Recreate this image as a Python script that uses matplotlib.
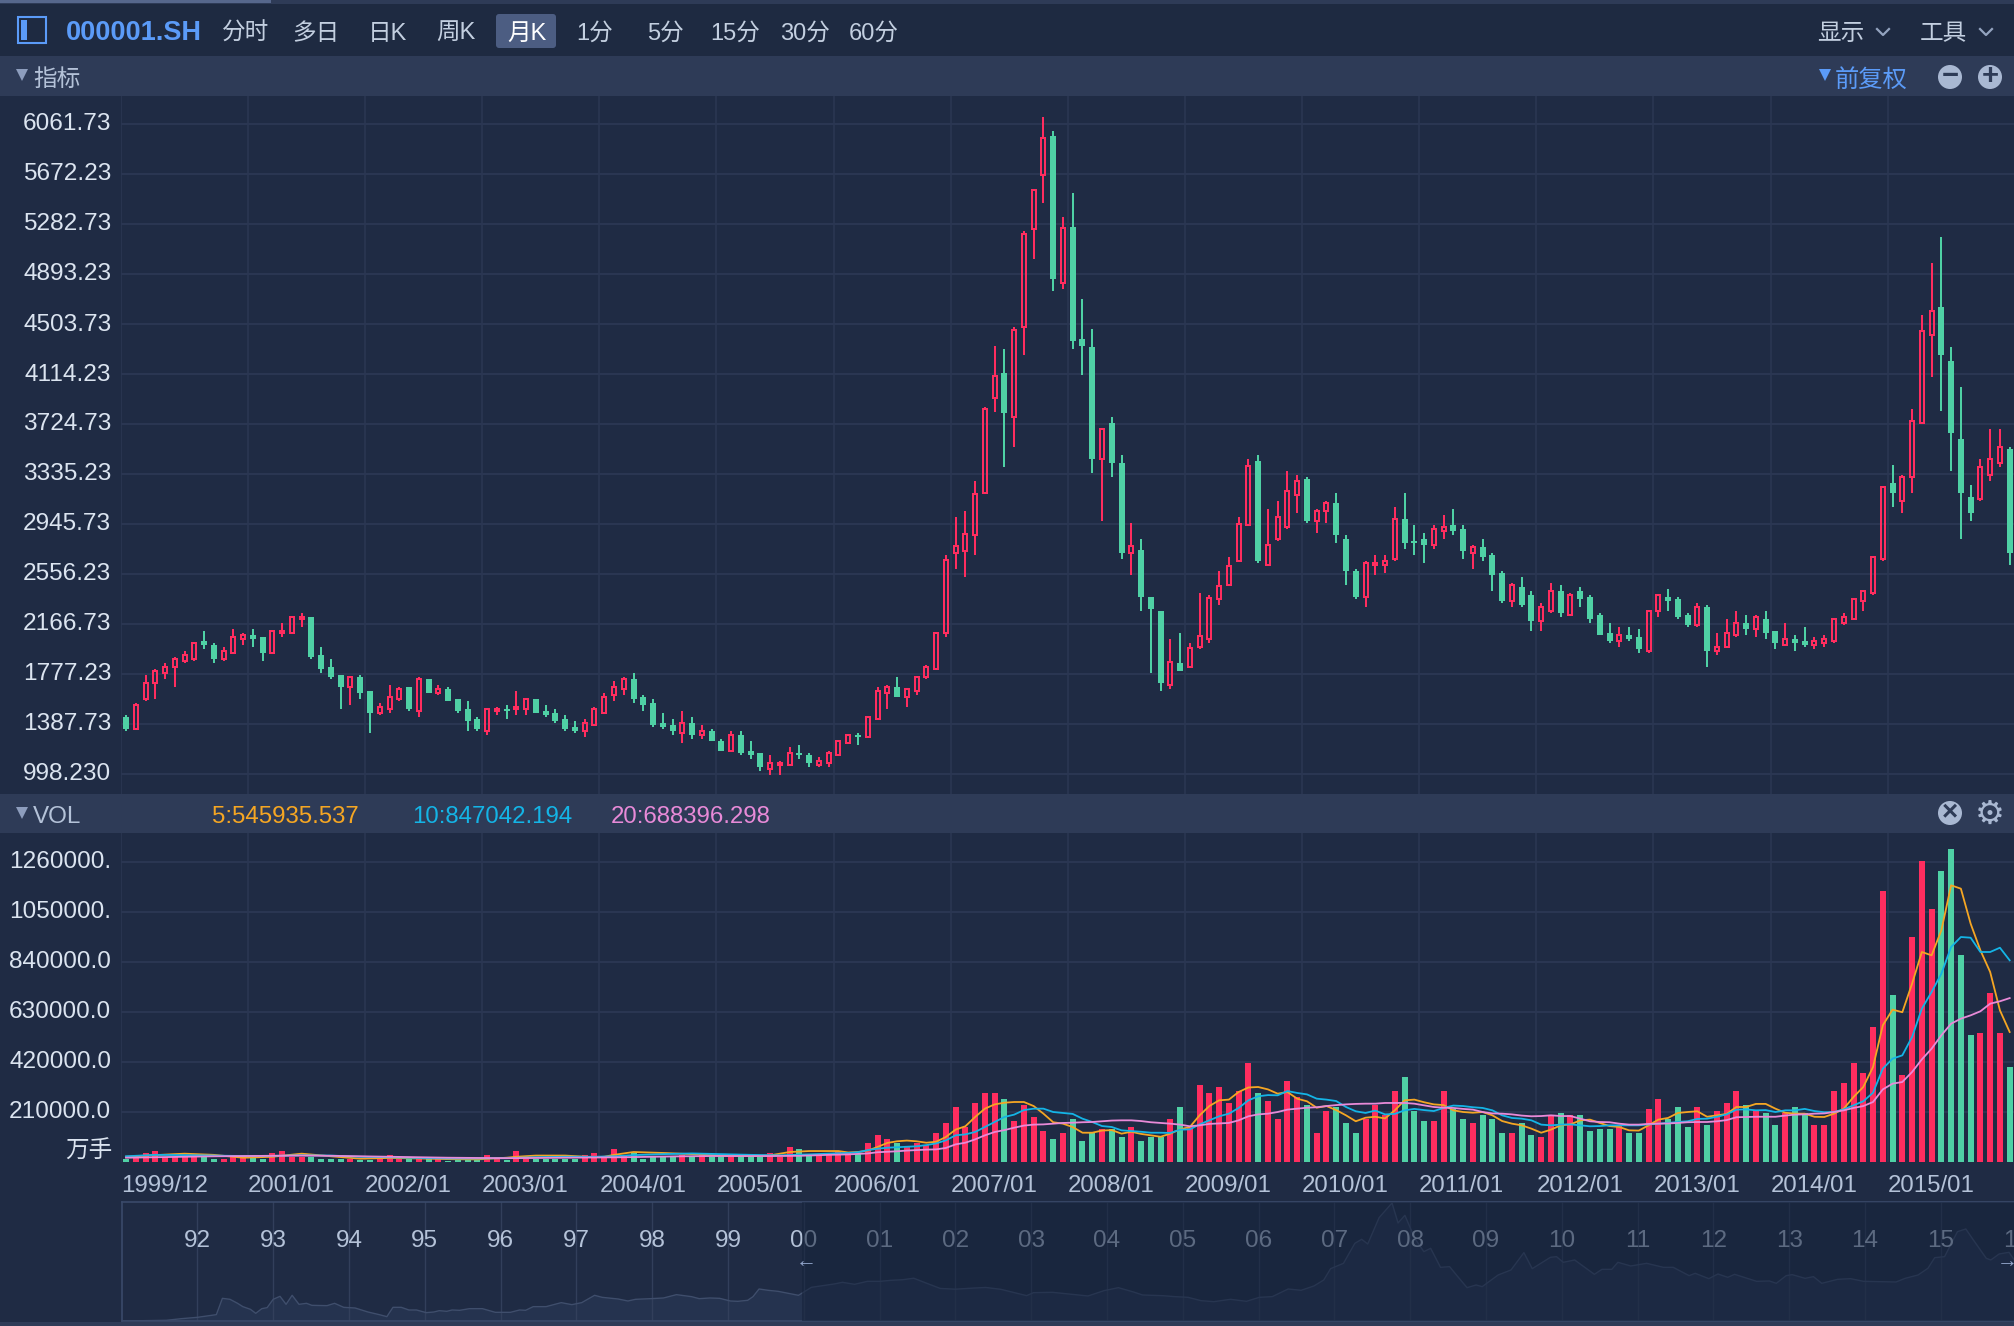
#!/usr/bin/env python3
"""Monthly K-line chart of 000001.SH with volume panel and navigator, dark terminal style."""
import matplotlib
matplotlib.use("Agg")
import matplotlib.pyplot as plt
from matplotlib.patches import Rectangle, Circle, FancyBboxPatch
from matplotlib.transforms import ScaledTranslation

plt.rcParams["font.family"] = ["Liberation Sans", "Noto Sans CJK SC", "DejaVu Sans"]

W, H = 2014, 1326

BG = "#1f2b44"
BAR = "#2e3b57"
TOOLBAR = "#1e2a41"
GRID = "#2b3753"
RED = "#ff2d5f"
GREEN = "#4fd1a5"
BLUE_TXT = "#5b9bf8"
LABEL = "#dbe4f0"
SUB = "#b4c2d8"

# monthly candles, 1999/12 onward
k_high = [
    1456, 1549, 1768, 1814, 1861, 1908, 1955, 2017, 2111, 2017,
    1986, 2126, 2095, 2126, 2064, 2111, 2173, 2220, 2251, 2220,
    1986, 1892, 1768, 1752, 1768, 1643, 1549, 1690, 1674, 1674,
    1752, 1736, 1690, 1674, 1580, 1565, 1440, 1502, 1518, 1534,
    1643, 1580, 1580, 1534, 1502, 1456, 1409, 1424, 1518, 1627,
    1721, 1752, 1783, 1612, 1580, 1471, 1424, 1487, 1440, 1378,
    1346, 1268, 1331, 1331, 1253, 1159, 1144, 1097, 1206, 1222,
    1159, 1128, 1175, 1253, 1300, 1315, 1440, 1674, 1690, 1752,
    1658, 1752, 1846, 2095, 2701, 2997, 3046, 3277, 3856, 4336,
    4306, 4478, 5227, 5550, 6114, 6006, 5334, 5522, 4697, 4463,
    3696, 3776, 3480, 2950, 2827, 2375, 2267, 2048, 2094, 2017,
    2405, 2390, 2578, 2686, 2997, 3449, 3480, 3062, 3125, 3359,
    3327, 3312, 3062, 3125, 3187, 2860, 2595, 2657, 2704, 2704,
    3078, 3187, 2938, 2876, 2938, 3016, 3062, 2938, 2782, 2829,
    2720, 2579, 2486, 2533, 2424, 2330, 2486, 2470, 2408, 2455,
    2392, 2252, 2174, 2143, 2143, 2128, 2268, 2392, 2439, 2377,
    2250, 2328, 2312, 2094, 2203, 2265, 2234, 2234, 2265, 2109,
    2172, 2078, 2141, 2063, 2078, 2203, 2250, 2359, 2421, 2686,
    3231, 3403, 3325, 3839, 4571, 4977, 5179, 4322, 4010, 3247,
    3449, 3683, 3683, 3543,
]
k_open = [
    1440, 1346, 1580, 1705, 1783, 1830, 1877, 1892, 2033, 2002,
    1892, 1939, 2048, 2080, 2064, 1939, 2095, 2095, 2204, 2220,
    1924, 1830, 1768, 1674, 1752, 1643, 1471, 1502, 1580, 1674,
    1487, 1736, 1627, 1658, 1580, 1502, 1424, 1331, 1487, 1502,
    1502, 1502, 1580, 1487, 1471, 1424, 1362, 1331, 1378, 1471,
    1612, 1658, 1736, 1596, 1549, 1393, 1378, 1315, 1393, 1300,
    1331, 1253, 1175, 1300, 1175, 1159, 1034, 1066, 1066, 1159,
    1144, 1066, 1081, 1144, 1237, 1300, 1284, 1424, 1627, 1674,
    1596, 1643, 1752, 1814, 2097, 2723, 2738, 2861, 3188, 3924,
    4121, 3779, 4484, 5245, 5664, 5972, 4823, 5257, 4386, 4321,
    3453, 3730, 3419, 2720, 2747, 2375, 2267, 1694, 1860, 1832,
    1986, 2051, 2359, 2470, 2658, 2938, 3434, 2626, 2829, 2922,
    3172, 3296, 2969, 3047, 3109, 2829, 2579, 2377, 2626, 2626,
    2673, 2985, 2813, 2829, 2782, 2891, 2938, 2907, 2720, 2766,
    2704, 2564, 2346, 2455, 2392, 2190, 2268, 2424, 2237, 2424,
    2377, 2237, 2096, 2034, 2081, 2065, 1956, 2268, 2377, 2361,
    2234, 2156, 2296, 1954, 1985, 2078, 2172, 2125, 2203, 2109,
    2000, 2047, 2031, 2000, 2016, 2031, 2172, 2203, 2343, 2405,
    2670, 3262, 3122, 3309, 3730, 4416, 4634, 4213, 3605, 3153,
    3138, 3325, 3418, 3527,
]
k_close = [
    1346, 1534, 1705, 1799, 1830, 1892, 1924, 2017, 2002, 1892,
    1955, 2064, 2080, 2048, 1939, 2111, 2111, 2220, 2220, 1908,
    1814, 1752, 1674, 1752, 1627, 1471, 1518, 1596, 1658, 1502,
    1736, 1627, 1658, 1565, 1487, 1409, 1346, 1502, 1502, 1487,
    1518, 1580, 1471, 1456, 1409, 1346, 1331, 1393, 1502, 1596,
    1674, 1736, 1580, 1534, 1378, 1362, 1331, 1393, 1300, 1331,
    1253, 1175, 1300, 1159, 1144, 1050, 1081, 1081, 1159, 1144,
    1081, 1097, 1159, 1253, 1300, 1284, 1440, 1643, 1674, 1596,
    1658, 1752, 1830, 2095, 2667, 2775, 2870, 3181, 3838, 4102,
    3807, 4460, 5208, 5550, 5953, 4851, 5254, 4370, 4336, 3449,
    3684, 3419, 2716, 2778, 2375, 2282, 1706, 1872, 1799, 1983,
    2076, 2371, 2464, 2621, 2947, 3400, 2655, 2782, 3000, 3203,
    3281, 2969, 3047, 3109, 2860, 2579, 2377, 2642, 2642, 2657,
    2985, 2798, 2798, 2782, 2907, 2922, 2891, 2735, 2766, 2689,
    2548, 2346, 2470, 2315, 2190, 2299, 2424, 2252, 2392, 2361,
    2205, 2081, 2034, 2081, 2050, 1972, 2268, 2392, 2346, 2221,
    2156, 2296, 1954, 1985, 2094, 2172, 2125, 2218, 2094, 2016,
    2047, 2016, 2000, 2031, 2047, 2203, 2218, 2359, 2421, 2686,
    3231, 3185, 3309, 3746, 4447, 4603, 4260, 3652, 3185, 3029,
    3387, 3449, 3543, 2717,
]
k_low = [
    1331, 1346, 1565, 1580, 1736, 1674, 1861, 1877, 1970, 1861,
    1877, 1939, 2002, 1986, 1877, 1939, 2064, 2095, 2142, 1892,
    1783, 1736, 1502, 1534, 1580, 1315, 1456, 1471, 1565, 1487,
    1440, 1627, 1612, 1565, 1471, 1331, 1331, 1300, 1456, 1424,
    1456, 1456, 1471, 1440, 1393, 1331, 1315, 1284, 1378, 1471,
    1565, 1612, 1549, 1487, 1362, 1346, 1300, 1237, 1268, 1268,
    1253, 1175, 1175, 1144, 1112, 1019, 988, 988, 1066, 1112,
    1050, 1050, 1050, 1144, 1237, 1222, 1284, 1424, 1502, 1596,
    1518, 1612, 1736, 1814, 2067, 2593, 2532, 2701, 3188, 3822,
    3388, 3542, 4259, 5008, 5445, 4758, 4774, 4306, 4105, 3342,
    2966, 3311, 2670, 2547, 2267, 1783, 1641, 1657, 1799, 1832,
    1971, 2017, 2313, 2470, 2658, 2938, 2639, 2626, 2813, 2907,
    3031, 2953, 2876, 2953, 2798, 2470, 2361, 2299, 2548, 2564,
    2657, 2751, 2704, 2642, 2751, 2829, 2860, 2673, 2595, 2657,
    2424, 2330, 2299, 2299, 2112, 2112, 2252, 2221, 2237, 2299,
    2174, 2081, 2019, 1987, 2034, 1941, 1941, 2221, 2268, 2205,
    2141, 2141, 1829, 1922, 1985, 2063, 2078, 2063, 2047, 1969,
    2000, 1954, 1985, 1969, 1985, 2016, 2156, 2203, 2265, 2390,
    2655, 3076, 3029, 3185, 3730, 4088, 3823, 3356, 2826, 2966,
    3122, 3278, 3387, 2624,
]

volume = [
    12600, 18200, 37800, 46200, 21000, 21000, 21000, 21000, 21000, 12600,
    12600, 21000, 21000, 21000, 12600, 37800, 46200, 21000, 21000, 21000,
    12600, 12600, 12600, 12600, 8400, 8400, 12600, 29400, 12600, 12600,
    12600, 12600, 12600, 4200, 12600, 12600, 8400, 29400, 12600, 8400,
    46200, 12600, 12600, 12600, 12600, 12600, 12600, 29400, 37800, 21000,
    54600, 29400, 37800, 12600, 21000, 21000, 21000, 29400, 21000, 29400,
    21000, 21000, 21000, 21000, 21000, 21000, 37800, 21000, 63000, 54600,
    29400, 29400, 29400, 46200, 37800, 35000, 78400, 112000, 95200, 81200,
    61600, 78400, 72800, 120400, 162400, 229600, 145600, 246400, 288400, 288400,
    263200, 170800, 238000, 187600, 128800, 95200, 120400, 179200, 86800, 120400,
    137200, 137200, 103600, 145600, 86800, 103600, 103600, 179200, 229600, 145600,
    322000, 288400, 313600, 246400, 296800, 414400, 288400, 254800, 179200, 338800,
    271600, 238000, 120400, 212800, 229600, 162400, 120400, 179200, 238000, 196000,
    296800, 355600, 212800, 170800, 170800, 296800, 221200, 179200, 162400, 196000,
    179200, 120400, 120400, 162400, 112000, 103600, 196000, 204400, 196000, 196000,
    128800, 137200, 137200, 154000, 120400, 120400, 221200, 263200, 179200, 229600,
    145600, 229600, 154000, 212800, 246400, 296800, 238000, 212800, 204400, 154000,
    204400, 229600, 204400, 154000, 154000, 296800, 330400, 414400, 372400, 565600,
    1136800, 700000, 364000, 943600, 1262800, 1061200, 1220800, 1313200, 868000, 532000,
    540400, 708400, 540400, 397600,
]

# moving average lines: sparse readings early on, every month from 2006 on
ma5_x = [0, 3, 6, 9, 12, 15, 18, 21, 24, 27, 30, 33, 36, 39, 40, 42, 45, 48, 49, 50,
         52, 55, 58, 61, 64, 66, 68, 70, 73] + list(range(74, 194))
ma5 = [22000, 29000, 35000, 30000, 18000, 22000, 35000, 24000, 14000, 17000, 15000,
       12000, 11000, 18000, 22000, 27000, 27000, 20000, 22000, 30000,
       42000, 38000, 33000, 27000, 25000, 28000, 42000, 46000, 46000,
       40000, 42000, 48000, 63000, 80000, 87000, 90000, 87000, 81000, 85000,
       105000, 136000, 150000, 189000, 224000, 242000, 249000, 252000, 252000, 235000,
       203000, 167000, 161000, 147000, 123000, 123000, 132000, 134000, 119000, 127000,
       118000, 112000, 106000, 119000, 137000, 147000, 196000, 235000, 259000, 262000,
       294000, 313000, 315000, 305000, 287000, 294000, 266000, 255000, 228000, 235000,
       218000, 196000, 171000, 186000, 190000, 183000, 217000, 259000, 262000, 251000,
       242000, 239000, 217000, 210000, 207000, 210000, 196000, 172000, 161000, 154000,
       140000, 123000, 136000, 154000, 158000, 175000, 178000, 164000, 151000, 147000,
       133000, 132000, 154000, 178000, 185000, 206000, 210000, 213000, 190000, 196000,
       202000, 231000, 231000, 244000, 244000, 224000, 207000, 203000, 203000, 190000,
       189000, 203000, 224000, 273000, 315000, 399000, 574000, 640000, 629000, 749000,
       882000, 868000, 973000, 1162000, 1148000, 1001000, 889000, 798000, 637000, 545936]
ma10_x = [0, 3, 6, 9, 12, 15, 18, 21, 24, 27, 30, 33, 36, 39, 42, 45, 48, 50, 52, 55,
          58, 61, 64, 67, 70, 73] + list(range(74, 194))
ma10 = [24000, 30000, 29000, 27000, 25000, 26000, 28000, 27000, 22000, 20000, 17000,
        15000, 15000, 16000, 20000, 22000, 22000, 24000, 29000, 33000,
        36000, 33000, 30000, 28000, 32000, 37000,
        38000, 41000, 50000, 56000, 60000, 62000, 64000, 66000, 71000, 78000,
        91000, 112000, 116000, 126000, 147000, 168000, 189000, 199000, 218000, 224000,
        224000, 210000, 206000, 202000, 182000, 168000, 151000, 147000, 133000, 130000,
        127000, 123000, 123000, 122000, 136000, 137000, 158000, 175000, 192000, 203000,
        227000, 259000, 276000, 281000, 280000, 298000, 290000, 284000, 266000, 262000,
        256000, 231000, 213000, 206000, 216000, 200000, 202000, 217000, 223000, 218000,
        214000, 227000, 237000, 235000, 230000, 227000, 217000, 196000, 185000, 182000,
        175000, 157000, 154000, 157000, 158000, 154000, 150000, 151000, 154000, 154000,
        154000, 154000, 158000, 161000, 164000, 168000, 171000, 181000, 182000, 190000,
        200000, 220000, 221000, 217000, 218000, 210000, 217000, 217000, 223000, 214000,
        209000, 210000, 221000, 238000, 255000, 291000, 392000, 434000, 448000, 525000,
        644000, 714000, 791000, 903000, 945000, 942000, 882000, 882000, 900000, 847042]
ma20_x = [0, 3, 6, 9, 12, 15, 18, 21, 24, 27, 30, 33, 36, 39, 42, 45, 48, 51, 54, 57,
          60, 63, 66, 69, 72] + list(range(74, 194))
ma20 = [18000, 20000, 22000, 24000, 25000, 26000, 27000, 26000, 24000, 22000, 20000,
        18000, 17000, 16000, 17000, 18000, 19000, 20000, 22000, 24000,
        25000, 25000, 25000, 26000, 30000,
        32000, 34000, 36000, 41000, 43000, 45000, 48000, 50000, 52000, 53000,
        59000, 74000, 81000, 95000, 112000, 126000, 134000, 144000, 153000, 157000,
        158000, 161000, 164000, 165000, 167000, 168000, 171000, 174000, 175000, 175000,
        172000, 167000, 164000, 161000, 157000, 150000, 154000, 160000, 162000, 164000,
        175000, 192000, 200000, 203000, 210000, 220000, 224000, 228000, 230000, 235000,
        239000, 242000, 244000, 245000, 245000, 248000, 248000, 248000, 245000, 238000,
        231000, 228000, 227000, 223000, 220000, 210000, 204000, 203000, 200000, 195000,
        192000, 193000, 196000, 193000, 193000, 182000, 171000, 168000, 167000, 161000,
        157000, 157000, 160000, 161000, 162000, 164000, 167000, 168000, 168000, 171000,
        176000, 188000, 189000, 190000, 190000, 190000, 195000, 199000, 200000, 203000,
        204000, 210000, 217000, 227000, 235000, 252000, 305000, 329000, 336000, 378000,
        431000, 476000, 532000, 581000, 602000, 616000, 633000, 665000, 675000, 688396]

price_ticks = [998.23 + 389.5 * n for n in range(14)]
price_labels = ["998.230", "1387.73", "1777.23", "2166.73", "2556.23", "2945.73", "3335.23",
                "3724.73", "4114.23", "4503.73", "4893.23", "5282.73", "5672.23", "6061.73"]
vol_ticks = [210000, 420000, 630000, 840000, 1050000, 1260000]
vol_labels = ["210000.0", "420000.0", "630000.0", "840000.0", "1050000.", "1260000."]
date_pos = [0, 13, 25, 37, 49, 61, 73, 85, 97, 109, 121, 133, 145, 157, 169, 181]
date_labels = ["1999/12", "2001/01", "2002/01", "2003/01", "2004/01", "2005/01", "2006/01", "2007/01",
               "2008/01", "2009/01", "2010/01", "2011/01", "2012/01", "2013/01", "2014/01", "2015/01"]

# navigator: whole history of the index
nav_years = [1991.01, 1991.59, 1991.79, 1992.00, 1992.25, 1992.33, 1992.43, 1992.53, 1992.60, 1992.70,
             1992.77, 1992.85, 1992.92, 1993.00, 1993.09, 1993.17, 1993.25, 1993.34, 1993.44, 1993.51,
             1993.71, 1993.81, 1993.93, 1994.08, 1994.25, 1994.40, 1994.50, 1994.58, 1994.69, 1994.79,
             1994.89, 1995.02, 1995.12, 1995.19, 1995.29, 1995.36, 1995.46, 1995.59, 1995.76, 1995.93,
             1996.13, 1996.25, 1996.33, 1996.43, 1996.60, 1996.80, 1996.94, 1997.07, 1997.24, 1997.34,
             1997.55, 1997.68, 1997.78, 1997.98, 1998.15, 1998.32, 1998.52, 1998.62, 1998.76, 1998.89,
             1999.03, 1999.13, 1999.26, 1999.33, 1999.41, 1999.53, 1999.66, 1999.93, 2000.10, 2000.40,
             2000.51, 2000.67, 2000.84, 2001.01, 2001.15, 2001.30, 2001.45, 2001.60, 2001.80, 2002.00,
             2002.20, 2002.40, 2002.60, 2002.94, 2003.03, 2003.28, 2003.49, 2003.75, 2003.96, 2004.15,
             2004.35, 2004.47, 2004.73, 2004.90, 2005.07, 2005.24, 2005.41, 2005.63, 2005.84, 2006.01,
             2006.18, 2006.39, 2006.56, 2006.73, 2006.86, 2006.95, 2007.12, 2007.27, 2007.36, 2007.44,
             2007.59, 2007.76, 2007.84, 2007.93, 2008.06, 2008.18, 2008.27, 2008.40, 2008.52, 2008.61,
             2008.75, 2008.87, 2008.95, 2009.16, 2009.33, 2009.50, 2009.61, 2009.85, 2009.93, 2010.02,
             2010.17, 2010.43, 2010.53, 2010.66, 2010.74, 2010.91, 2011.12, 2011.34, 2011.47, 2011.68,
             2011.76, 2011.94, 2012.06, 2012.19, 2012.28, 2012.57, 2012.74, 2012.83, 2012.96, 2013.04,
             2013.21, 2013.32, 2013.43, 2013.64, 2013.81, 2013.98, 2014.41, 2014.53, 2014.70, 2014.83,
             2014.92, 2015.05, 2015.22, 2015.33, 2015.43, 2015.60, 2015.66, 2015.77, 2015.90, 2015.97]
nav_values = [0, 35, 121, 190, 329, 1176, 1125, 917, 744, 605,
              398, 640, 692, 1125, 1280, 865, 1332, 865, 917, 813,
              796, 917, 709, 675, 467, 329, 225, 709, 709, 571,
              571, 433, 467, 536, 502, 571, 554, 640, 640, 450,
              450, 571, 554, 744, 744, 952, 848, 952, 1332, 1228,
              1142, 1038, 1125, 1159, 1194, 1367, 1263, 1159, 1194, 1176,
              1038, 1021, 1073, 1263, 1661, 1592, 1540, 1332, 1747, 1920,
              2007, 1903, 2059, 2059, 2111, 2140, 2220, 1990, 1690, 1650,
              1700, 1740, 1644, 1315, 1470, 1488, 1401, 1298, 1574, 1730,
              1505, 1349, 1315, 1263, 1228, 1055, 1003, 1125, 1021, 1228,
              1263, 1661, 1592, 1817, 2128, 2716, 2993, 4031, 4239, 3997,
              5363, 6124, 5086, 5484, 4291, 3599, 3772, 2785, 2820, 2387,
              1730, 1869, 1782, 2387, 2647, 3546, 2716, 3304, 3339, 3045,
              3166, 2422, 2682, 2682, 3045, 2855, 2993, 2785, 2785, 2353,
              2474, 2197, 2439, 2266, 2422, 2059, 2076, 1955, 2353, 2405,
              2214, 2301, 1955, 2163, 2197, 2059, 2024, 2214, 2387, 2734,
              3287, 3339, 4636, 4775, 4204, 3253, 3166, 3477, 3564, 3166]
nav_tick_years = list(range(1992, 2017))
nav_tick_labels = ["92", "93", "94", "95", "96", "97", "98", "99", "00", "01", "02", "03", "04",
                   "05", "06", "07", "08", "09", "10", "11", "12", "13", "14", "15", "16"]

toolbar_items = [("分时", 246), ("多日", 316), ("日K", 387), ("周K", 456), ("1分", 595),
                 ("5分", 665), ("15分", 735), ("30分", 805), ("60分", 874)]


def px_axes(x0, y0, x1, y1):
    ax = fig.add_axes([x0 / W, 1 - y1 / H, (x1 - x0) / W, (y1 - y0) / H])
    ax.patch.set_visible(False)
    return ax


fig = plt.figure(figsize=(W / 100, H / 100), dpi=100, facecolor=BG)
nudge_up = ScaledTranslation(0, 2 / 100, fig.dpi_scale_trans)

# chrome drawn in pixel coordinates
bg = fig.add_axes([0, 0, 1, 1])
bg.set_xlim(0, W)
bg.set_ylim(H, 0)
bg.axis("off")
bg.add_patch(Rectangle((0, 0), W, 4, color="#2e3b57", lw=0))
bg.add_patch(Rectangle((0, 0), 271, 3, color="#56678c", lw=0))
bg.add_patch(Rectangle((0, 4), W, 52, color=TOOLBAR, lw=0))
bg.add_patch(Rectangle((0, 56), W, 40, color=BAR, lw=0))
bg.add_patch(Rectangle((0, 794), W, 39, color=BAR, lw=0))
bg.add_patch(Rectangle((0, 1322), W, 4, color=BAR, lw=0))

bg.add_patch(Rectangle((18, 17), 28, 26, fill=False, ec=BLUE_TXT, lw=1.5))
bg.add_patch(Rectangle((21, 20), 6, 20, color=BLUE_TXT, lw=0))
bg.text(66, 33, "000001.SH", color=BLUE_TXT, fontsize=19.5, fontweight="bold", va="center")
for name, cx in toolbar_items:
    bg.text(cx, 34, name, color="#c3cfe0", fontsize=17, ha="center", va="center")
bg.add_patch(FancyBboxPatch((496, 14), 60, 34, boxstyle="round,pad=0,rounding_size=3", fc="#4c5d82", lw=0))
bg.text(527, 34, "月K", color="white", fontsize=17, ha="center", va="center")
bg.text(1841, 34, "显示", color="#c3cfe0", fontsize=17, ha="center", va="center")
bg.text(1943, 34, "工具", color="#c3cfe0", fontsize=17, ha="center", va="center")
for cx in (1883, 1986):
    bg.plot([cx - 6, cx, cx + 6], [29, 35, 29], color="#93a3bf", lw=1.6)

bg.plot([22], [75], marker="v", ms=9, color="#8d9dbd", mew=0)
bg.text(33, 80, "指标", color="#b4c2d8", fontsize=17, va="center")
bg.plot([1825], [75], marker="v", ms=9, color=BLUE_TXT, mew=0)
bg.text(1835, 80, "前复权", color=BLUE_TXT, fontsize=17.5, va="center")
for cx, sign in ((1950, "−"), (1990, "+")):
    bg.add_patch(Circle((cx, 77), 12, color="#a9b8d2", lw=0))
    bg.text(cx, 76, sign, color=BAR, fontsize=21, fontweight="bold", ha="center", va="center")

bg.plot([22], [813], marker="v", ms=9, color="#8d9dbd", mew=0)
bg.text(33, 817, "VOL", color="#b4c2d8", fontsize=17.5, va="center")
bg.text(212, 817, "5:545935.537", color="#f5a623", fontsize=17.3, va="center")
bg.text(412, 817, "10:847042.194", color="#14b4e6", fontsize=17.3, va="center")
bg.text(611, 817, "20:688396.298", color="#e88ad8", fontsize=17.3, va="center")
bg.add_patch(Circle((1950, 813), 12, color="#a9b8d2", lw=0))
bg.text(1950, 812, "×", color=BAR, fontsize=20, fontweight="bold", ha="center", va="center")
bg.text(1990, 815, "⚙", color="#a9b8d2", fontsize=24, ha="center", va="center")
bg.text(112, 1152, "万手", color=LABEL, fontsize=17, ha="right", va="center")

x_left = -5 / 9.76
x_right = (W - 126) / 9.76
idx = list(range(len(k_open)))
grid_x = [p - 0.5 for p in date_pos]

# candle panel
ax_k = px_axes(121, 96, W, 794)
ax_k.set_xlim(x_left, x_right)
ax_k.set_ylim(998.23 - 20 * 7.79, 998.23 + 678 * 7.79)
ax_k.set_yticks(price_ticks)
ax_k.set_yticklabels(price_labels, color=LABEL, fontsize=17.6)
ax_k.set_xticks(grid_x)
ax_k.tick_params(length=0, labelbottom=False, pad=7)
ax_k.grid(True, axis="y", color=GRID, lw=1.4)
ax_k.grid(True, axis="x", color=GRID, lw=1.1)
ax_k.set_axisbelow(True)
for s in ax_k.spines.values():
    s.set_visible(False)
for lab in ax_k.get_yticklabels():
    lab.set_transform(lab.get_transform() + nudge_up)

for i in idx:
    top = max(k_open[i], k_close[i])
    bot = min(k_open[i], k_close[i])
    if k_close[i] >= k_open[i]:
        ax_k.vlines(i, top, k_high[i], color=RED, lw=1.44)
        ax_k.vlines(i, k_low[i], bot, color=RED, lw=1.44)
        ax_k.bar(i, top - bot, bottom=bot, width=0.41, facecolor="none", edgecolor=RED, linewidth=1.44)
    else:
        ax_k.vlines(i, k_low[i], k_high[i], color=GREEN, lw=1.44)
        ax_k.bar(i, top - bot, bottom=bot, width=0.615, color=GREEN, linewidth=0)

# volume panel
ax_v = px_axes(121, 833, W, 1162)
ax_v.set_xlim(x_left, x_right)
ax_v.set_ylim(0, 329 * 4200)
ax_v.set_yticks(vol_ticks)
ax_v.set_yticklabels(vol_labels, color=LABEL, fontsize=17.6)
ax_v.set_xticks(grid_x)
ax_v.set_xticklabels(date_labels, color=SUB, fontsize=17.3, ha="left")
ax_v.tick_params(axis="y", length=0, pad=7)
ax_v.tick_params(axis="x", length=0, pad=9)
ax_v.grid(True, axis="y", color=GRID, lw=1.4)
ax_v.grid(True, axis="x", color=GRID, lw=1.1)
ax_v.set_axisbelow(True)
for s in ax_v.spines.values():
    s.set_visible(False)
for lab in ax_v.get_yticklabels():
    lab.set_transform(lab.get_transform() + nudge_up)
vol_colors = [RED if c >= o else GREEN for o, c in zip(k_open, k_close)]
ax_v.bar(idx, volume, width=0.615, color=vol_colors, linewidth=0)
ax_v.plot(ma5_x, ma5, color="#f5a623", lw=1.3)
ax_v.plot(ma10_x, ma10, color="#14b4e6", lw=1.3)
ax_v.plot(ma20_x, ma20, color="#e88ad8", lw=1.3)

# navigator
ax_n = px_axes(122, 1202, W, 1321)
ax_n.set_xlim(1992 + (122 - 197.4) / 75.8, 1992 + (W - 197.4) / 75.8)
ax_n.set_ylim(0, 119 * 51.9)
ax_n.set_yticks([])
ax_n.set_xticks([])
ax_n.spines["right"].set_visible(False)
for side in ("top", "bottom", "left"):
    ax_n.spines[side].set_color("#3a4a6a")
    ax_n.spines[side].set_linewidth(1.2)
ax_n.fill_between(nav_years, nav_values, 0, color="#25334f", lw=0, zorder=1)
ax_n.plot(nav_years, nav_values, color="#3f4e6c", lw=1.0, zorder=2)
for y, lab in zip(nav_tick_years, nav_tick_labels):
    ax_n.axvline(y, color="#323f5b", lw=1.0, zorder=1.5)
    ax_n.text(y, 4150, lab, color=SUB, fontsize=17.5, ha="center", va="center", zorder=3, clip_on=False)
ax_n.axvspan(1999.97, 1992 + (W - 197.4) / 75.8, color="#15223a", alpha=0.55, lw=0, zorder=4)
for px, arrow in ((806, "←"), (2007, "→")):
    ax_n.text(px, 1262, arrow, color="#93a6cc", fontsize=15, fontweight="bold", ha="center", va="center",
              transform=bg.transData, zorder=6, clip_on=False)

fig.savefig("out.png", dpi=100, facecolor=BG)
